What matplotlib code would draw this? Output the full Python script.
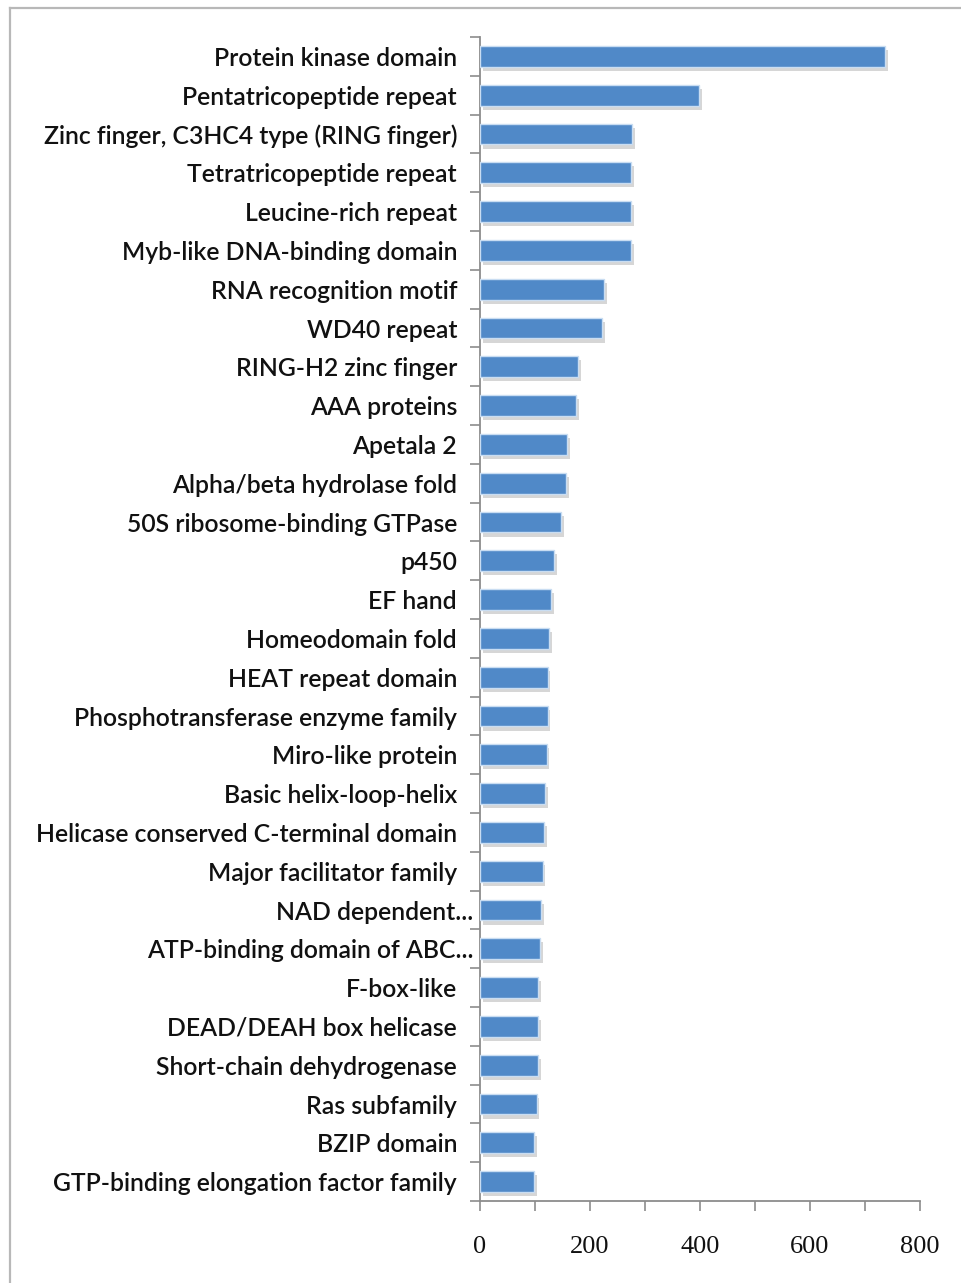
import matplotlib
matplotlib.use("Agg")
import matplotlib.pyplot as plt
import matplotlib.patheffects as pe
from matplotlib.lines import Line2D
from matplotlib.transforms import ScaledTranslation
import numpy as np

categories = [
    "Protein kinase domain",
    "Pentatricopeptide repeat",
    "Zinc finger, C3HC4 type (RING finger)",
    "Tetratricopeptide repeat",
    "Leucine-rich repeat",
    "Myb-like DNA-binding domain",
    "RNA recognition motif",
    "WD40 repeat",
    "RING-H2 zinc finger",
    "AAA proteins",
    "Apetala 2",
    "Alpha/beta hydrolase fold",
    "50S ribosome-binding GTPase",
    "p450",
    "EF hand",
    "Homeodomain fold",
    "HEAT repeat domain",
    "Phosphotransferase enzyme family",
    "Miro-like protein",
    "Basic helix-loop-helix",
    "Helicase conserved C-terminal domain",
    "Major facilitator family",
    "NAD dependent...",
    "ATP-binding domain of ABC...",
    "F-box-like",
    "DEAD/DEAH box helicase",
    "Short-chain dehydrogenase",
    "Ras subfamily",
    "BZIP domain",
    "GTP-binding elongation factor family",
]
counts = [737, 399, 277, 275, 275, 275, 225, 222, 179, 175,
          159, 156, 147, 135, 129, 126, 123, 123, 121, 118,
          117, 114, 111, 109, 105, 105, 106, 103, 99, 99]
xticks = [0, 200, 400, 600, 800]

W, H = 961, 1283
fig = plt.figure(figsize=(W / 100, H / 100), dpi=100)
fig.patch.set_facecolor("white")

# outer frame (top and left edges visible)
fig.add_artist(Line2D([10 / W, 1.0], [1 - 7.5 / H, 1 - 7.5 / H],
                      transform=fig.transFigure, color="#b8b8b8", lw=1.6))
fig.add_artist(Line2D([10 / W, 10 / W], [0, 1 - 7.5 / H],
                      transform=fig.transFigure, color="#b8b8b8", lw=1.6))

ax = fig.add_axes([480 / W, 1 - 1201 / H, 440 / W, (1201 - 37) / H])
y = np.arange(len(categories))
bars = ax.barh(y, counts, height=0.54, color="#5089C8", edgecolor="#C9DDF2",
               linewidth=1.0, zorder=3)
for b in bars:
    b.set_path_effects([
        pe.SimplePatchShadow(offset=(2, -3), shadow_rgbFace="#999999", alpha=0.4),
        pe.Normal(),
    ])

ax.set_xlim(0, 800)
ax.set_ylim(len(categories) - 0.5, -0.5)

for s in ["top", "right"]:
    ax.spines[s].set_visible(False)
for s in ["left", "bottom"]:
    ax.spines[s].set_color("#8c8c8c")
    ax.spines[s].set_linewidth(1.3)

ax.set_yticks(y)
ax.set_yticklabels(categories, family=["Lato", "DejaVu Sans"], fontsize=17.8,
                   fontweight="semibold", color="#111111")
ax.set_yticks(np.arange(-0.5, len(categories), 1.0), minor=True)
ax.tick_params(axis="y", which="major", length=0, pad=16.5)
ax.tick_params(axis="y", which="minor", length=7, width=1.2, color="#8c8c8c",
               direction="out")

ax.set_xticks(xticks)
ax.set_xticklabels([str(v) for v in xticks], family=["Liberation Serif", "DejaVu Serif"],
                   fontsize=19, color="#111111")
ax.set_xticks(np.arange(100, 800, 200), minor=True)
ax.tick_params(axis="x", which="both", length=7, width=1.2, color="#8c8c8c",
               direction="out")
ax.tick_params(axis="x", which="major", pad=18)

# truncated labels sit slightly closer to the axis
for lab in ax.get_yticklabels():
    if lab.get_text().endswith("..."):
        lab.set_transform(lab.get_transform() +
                          ScaledTranslation(16 / 100, 0, fig.dpi_scale_trans))

fig.savefig("out.png", dpi=100, facecolor="white")
